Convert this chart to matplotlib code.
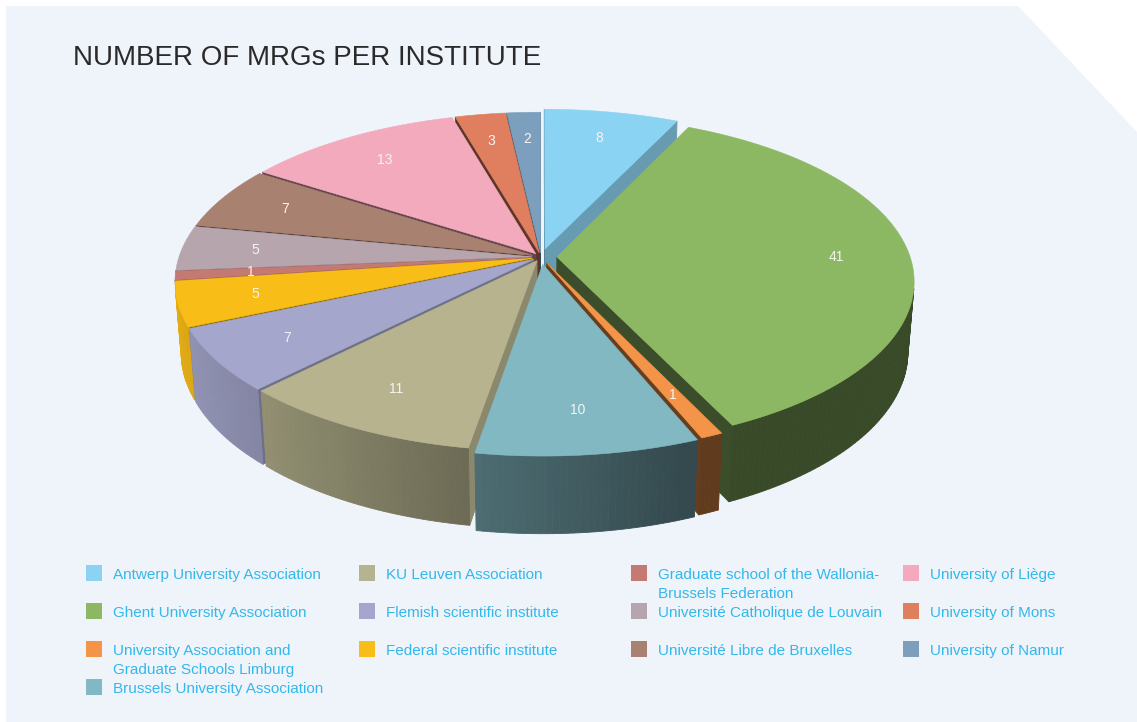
import numpy as np
import matplotlib.pyplot as plt
from matplotlib.patches import Polygon, Rectangle
from matplotlib.colors import to_rgb

# --- data ---
institutes = [
    'Antwerp University Association',
    'Ghent University Association',
    'University Association and\nGraduate Schools Limburg',
    'Brussels University Association',
    'KU Leuven Association',
    'Flemish scientific institute',
    'Federal scientific institute',
    'Graduate school of the Wallonia-\nBrussels Federation',
    'Université Catholique de Louvain',
    'Université Libre de Bruxelles',
    'University of Liège',
    'University of Mons',
    'University of Namur',
]
counts = [8, 41, 1, 10, 11, 7, 5, 1, 5, 7, 13, 3, 2]
colors = ['#8AD3F2', '#8DB863', '#F39449', '#82B8C2', '#B6B38E', '#A4A6CC',
          '#F9BD17', '#C47A72', '#B7A5AE', '#A98170', '#F4AABD', '#E07F60',
          '#7B9FBC']
explode = [0.05, 0.045, 0.04, 0.045, 0.025, 0.025, 0.025, 0.025, 0.025,
           0.025, 0.025, 0.025, 0.025]
legend_columns = [[0, 1, 2, 3], [4, 5, 6], [7, 8, 9], [10, 11, 12]]

# --- simple perspective camera for the 3D pie ---
CX, CY = 541, 257
F, D = 2190.0, 6.2
ELEV = np.radians(27.3)
THICK = 0.225
SE, CE = np.sin(ELEV), np.cos(ELEV)
CAM = np.array([0.0, -D * CE, D * SE])


def project(X, Y, Z):
    X, Y, Z = np.asarray(X, float), np.asarray(Y, float), np.asarray(Z, float)
    yc = Y * SE + Z * CE
    zc = D + Y * CE - Z * SE
    return CX + F * X / zc, CY - F * yc / zc, zc


def shade(c, f):
    return tuple(min(1, v * f) for v in to_rgb(c))


fig = plt.figure(figsize=(11.37, 7.22), dpi=100)
ax = fig.add_axes([0, 0, 1, 1])
ax.set_xlim(0, 1137)
ax.set_ylim(722, 0)
ax.axis('off')

# background panel with the clipped corner
ax.add_patch(Polygon([(6, 6), (1018, 6), (1137, 132), (1137, 722), (6, 722)],
                     closed=True, facecolor='#EFF3FA', edgecolor='none', zorder=0))

ax.text(73, 58, 'NUMBER OF MRGs PER INSTITUTE', fontsize=20, color='#2A2A2A',
        family='Liberation Sans', va='center', ha='left')

total = sum(counts)
bounds = np.concatenate([[0], np.cumsum(counts)]) / total * 360.0

walls = []   # (depth, polygon pts, color)
tops = []
labels = []
for i, (cnt, col, ex) in enumerate(zip(counts, colors, explode)):
    a0, a1 = bounds[i], bounds[i + 1]
    mid = np.radians((a0 + a1) / 2)
    ox, oy = ex * np.sin(mid), ex * np.cos(mid)
    angs = np.radians(np.linspace(a0, a1, max(2, int(a1 - a0) + 2)))
    X = ox + np.sin(angs)
    Y = oy + np.cos(angs)

    # top face
    px, py, _ = project(np.r_[ox, X], np.r_[oy, Y], np.zeros(len(X) + 1))
    tops.append((np.column_stack([px, py]), col))

    # outer wall
    for k in range(len(angs) - 1):
        am = (angs[k] + angs[k + 1]) / 2
        n = np.array([np.sin(am), np.cos(am), 0])
        c3 = np.array([ox + np.sin(am), oy + np.cos(am), -THICK / 2])
        if np.dot(n, CAM - c3) <= 0:
            continue
        xs = [X[k], X[k + 1], X[k + 1], X[k]]
        ys = [Y[k], Y[k + 1], Y[k + 1], Y[k]]
        zs = [0, 0, -THICK, -THICK]
        qx, qy, _ = project(xs, ys, zs)
        _, _, dz = project(c3[0], c3[1], c3[2])
        f = max(0.4, 0.53 - 0.39 * np.sin(am))
        walls.append((float(dz), np.column_stack([qx, qy]), shade(col, f)))

    # radial cut faces
    for edge, nang in ((a0, a0 - 90), (a1, a1 + 90)):
        e = np.radians(edge)
        nr = np.radians(nang)
        n = np.array([np.sin(nr), np.cos(nr), 0])
        rx, ry = ox + np.sin(e), oy + np.cos(e)
        c3 = np.array([(ox + rx) / 2, (oy + ry) / 2, -THICK / 2])
        if np.dot(n, CAM - c3) <= 0:
            continue
        qx, qy, _ = project([ox, rx, rx, ox], [oy, ry, ry, oy],
                            [0, 0, -THICK, -THICK])
        _, _, dz = project(c3[0], c3[1], c3[2])
        f = 0.42 + 0.35 * max(0, np.sin(nr))
        walls.append((float(dz), np.column_stack([qx, qy]), shade(col, f)))

    lr = 0.79
    lx, ly, _ = project(ox + lr * np.sin(mid), oy + lr * np.cos(mid), 0)
    labels.append((float(lx), float(ly), str(cnt)))

z = 2
for dz, pts, c in sorted(walls, key=lambda w: -w[0]):
    ax.add_patch(Polygon(pts, closed=True, facecolor=c, edgecolor=c,
                         linewidth=0.6, zorder=z))
    z += 0.001
for pts, c in tops:
    ax.add_patch(Polygon(pts, closed=True, facecolor=c, edgecolor=c,
                         linewidth=0.4, zorder=5))
for lx, ly, s in labels:
    ax.text(lx, ly, s, fontsize=10, color='#F4F4F4', ha='center', va='center',
            family='Liberation Sans', zorder=6)

# legend
col_x = [86, 359, 631, 903]
row_y = [573, 611, 649, 687]
for ci, items in enumerate(legend_columns):
    for ri, idx in enumerate(items):
        y = row_y[ri]
        ax.add_patch(Rectangle((col_x[ci], y - 8), 16, 16,
                               facecolor=colors[idx], edgecolor='none', zorder=6))
        ax.text(col_x[ci] + 27, y - 5, institutes[idx], fontsize=11,
                color='#33B8EC', family='Liberation Sans', ha='left',
                va='top', linespacing=1.45, zorder=6)

fig.savefig('out.png', dpi=100, facecolor='white')
